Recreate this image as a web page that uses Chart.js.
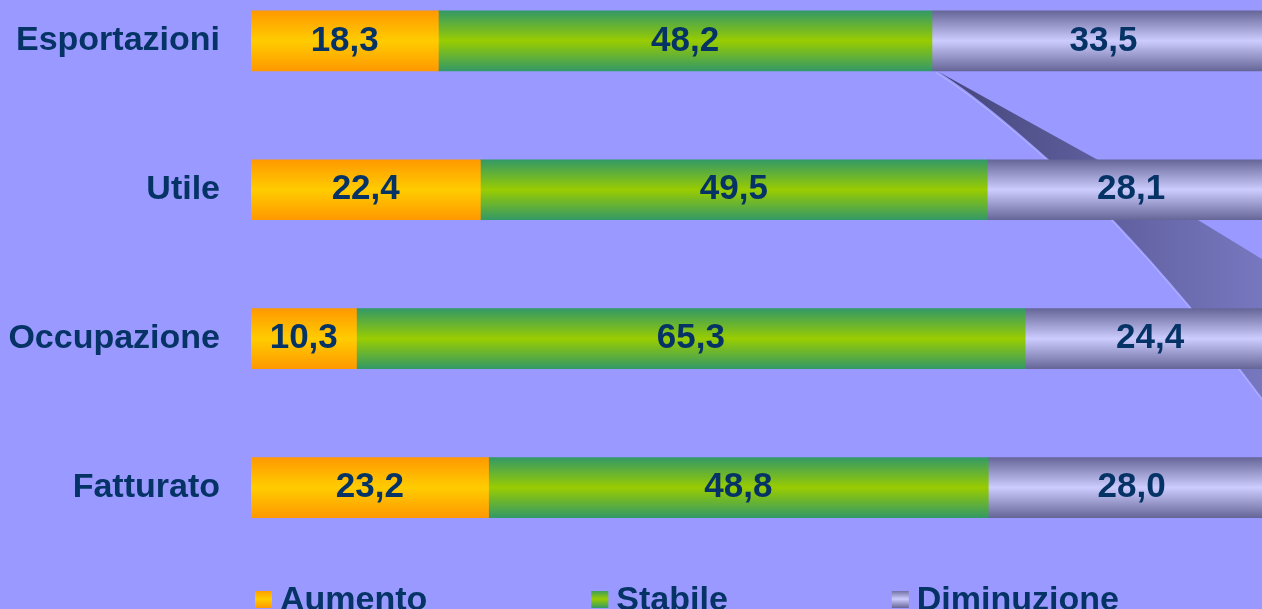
<!DOCTYPE html>
<html>
<head>
<meta charset="utf-8">
<script src="https://cdn.jsdelivr.net/npm/chart.js@4.4.1/dist/chart.umd.min.js"></script>
<style>
  html, body { margin: 0; padding: 0; width: 1262px; height: 609px; overflow: hidden; background: #9999ff; }
  #box { position: absolute; left: 0; top: -85.5px; width: 1300px; height: 716px; }
</style>
</head>
<body>
<div id="box"><canvas id="grafico"></canvas></div>
<script>
// dati
const CATEGORIE = ['Esportazioni', 'Utile', 'Occupazione', 'Fatturato'];
const SERIE = ['Aumento', 'Stabile', 'Diminuzione'];
const AUMENTO = [18.3, 22.4, 10.3, 23.2];
const STABILE = [48.2, 49.5, 65.3, 48.8];
const DIMINUZIONE = [33.5, 28.1, 24.4, 28.0];

// colori: bordo, centro, bordo
const COLORI = [
    ['#ff9900', '#ffcc00', '#ff9900'],
    ['#339966', '#99cc00', '#339966'],
    ['#666699', '#ccccff', '#666699']
];
const TESTO = '#063366';
const SPESSORE = 60;
const SPOSTAMENTO = 85.5; // canvas spostato in alto
const FONT = '"Liberation Sans", Arial, sans-serif';

function gradiente(c, cores) {
    var chart = c.chart;
    if (!chart.chartArea || c.dataIndex === undefined) return cores[1];
    var y = chart.scales.y.getPixelForValue(c.dataIndex);
    var g = chart.ctx.createLinearGradient(0, y - SPESSORE / 2, 0, y + SPESSORE / 2);
    g.addColorStop(0, cores[0]);
    g.addColorStop(0.5, cores[1]);
    g.addColorStop(1, cores[2]);
    return g;
}

// forma decorativa dietro le barre
const sfondo = {
    id: 'sfondo',
    beforeDatasetsDraw: function(chart) {
        var ctx = chart.ctx;
        var d = SPOSTAMENTO;
        ctx.save();
        var g = ctx.createLinearGradient(936, 0, 1300, 0);
        g.addColorStop(0, '#45457a');
        g.addColorStop(1, '#7d7dc8');
        ctx.fillStyle = g;
        ctx.beginPath();
        ctx.moveTo(938, 71 + d);
        ctx.lineTo(1097, 159 + d);
        ctx.quadraticCurveTo(1180, 208 + d, 1300, 282 + d);
        ctx.lineTo(1300, 445 + d);
        ctx.lineTo(1262, 397 + d);
        ctx.quadraticCurveTo(1190, 300 + d, 1113, 219 + d);
        ctx.quadraticCurveTo(1000, 110 + d, 938, 71 + d);
        ctx.closePath();
        ctx.fill();
        ctx.strokeStyle = 'rgba(190,190,255,0.8)';
        ctx.lineWidth = 1;
        ctx.beginPath();
        ctx.moveTo(1300, 447 + d);
        ctx.lineTo(1262, 399 + d);
        ctx.quadraticCurveTo(1190, 302 + d, 1113, 221 + d);
        ctx.quadraticCurveTo(1000, 112 + d, 936, 72 + d);
        ctx.stroke();
        ctx.restore();
    }
};

// valori dentro le barre + legenda
const etichette = {
    id: 'etichette',
    afterDatasetsDraw: function(chart) {
        var ctx = chart.ctx;
        ctx.save();
        ctx.font = 'bold 35px ' + FONT;
        ctx.fillStyle = TESTO;
        ctx.textAlign = 'center';
        ctx.textBaseline = 'middle';
        chart.data.datasets.forEach(function(ds, i) {
            chart.getDatasetMeta(i).data.forEach(function(bar, j) {
                var testo = ds.data[j].toFixed(1).replace('.', ',');
                ctx.fillText(testo, (bar.x + bar.base) / 2, bar.y);
            });
        });
        ctx.restore();
    },
    afterDraw: function(chart) {
        var ctx = chart.ctx;
        var area = chart.chartArea;
        var x = area.left + 4;
        var y = area.bottom + 37;
        ctx.save();
        ctx.font = 'bold 34px ' + FONT;
        ctx.textBaseline = 'middle';
        ctx.textAlign = 'left';
        SERIE.forEach(function(nome, i) {
            var g = ctx.createLinearGradient(0, y - 9, 0, y + 9);
            g.addColorStop(0, COLORI[i][0]);
            g.addColorStop(0.5, COLORI[i][1]);
            g.addColorStop(1, COLORI[i][2]);
            ctx.fillStyle = g;
            ctx.fillRect(x, y - 8, 17, 17);
            ctx.fillStyle = TESTO;
            ctx.fillText(nome, x + 25, y + 2);
            x += 25 + ctx.measureText(nome).width + 164;
        });
        ctx.restore();
    }
};

var datasets = [AUMENTO, STABILE, DIMINUZIONE].map(function(valori, i) {
    return {
        label: SERIE[i],
        data: valori,
        backgroundColor: function(c) { return gradiente(c, COLORI[i]); },
        borderWidth: 0,
        barThickness: SPESSORE
    };
});

new Chart(document.getElementById('grafico'), {
    type: 'bar',
    data: { labels: CATEGORIE, datasets: datasets },
    plugins: [sfondo, etichette],
    options: {
        indexAxis: 'y',
        responsive: true,
        maintainAspectRatio: false,
        animation: false,
        layout: { padding: { top: 6.5, right: 25, bottom: 69, left: 0 } },
        plugins: {
            legend: { display: false },
            tooltip: { enabled: false }
        },
        scales: {
            x: { stacked: true, display: false, min: 0, max: 100 },
            y: {
                stacked: true,
                grid: { display: false, drawTicks: false },
                border: { display: false },
                ticks: {
                    color: TESTO,
                    padding: 31,
                    font: { family: FONT, size: 34, weight: 'bold' }
                },
                afterFit: function(scale) { scale.width = 251; }
            }
        }
    }
});
</script>
</body>
</html>
